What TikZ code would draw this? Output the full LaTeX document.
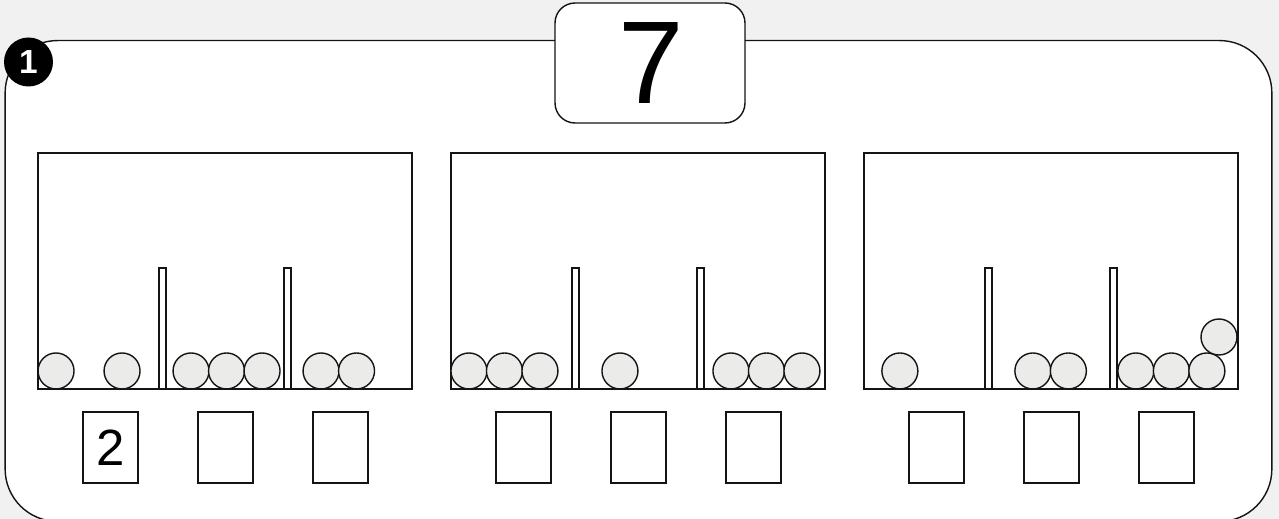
\documentclass[tikz,border=0pt]{standalone}
\usepackage{fontspec}
\setmainfont{Liberation Sans}
\usetikzlibrary{positioning}
\definecolor{ink}{RGB}{20,20,20}
\definecolor{paper}{RGB}{240,241,240}
\definecolor{marble}{RGB}{235,236,234}
\tikzset{
  every picture/.style={color=ink, line width=0.8pt},
  frame/.style={draw=ink, fill=white, rounded corners=1.05cm, minimum width=25.34cm, minimum height=9.62cm, inner sep=0pt},
  total/.style={draw=ink, fill=white, rounded corners=0.4cm, minimum width=3.8cm, minimum height=2.4cm, inner sep=0pt, text=black, font=\fontsize{67}{70}\selectfont},
  badge/.style={circle, fill=black, text=white, minimum size=0.98cm, inner sep=0pt, font=\fontsize{19}{22}\selectfont\bfseries},
  tray/.style={draw=ink, fill=white, minimum width=7.48cm, minimum height=4.72cm, inner sep=0pt, outer sep=0pt},
  wall/.style={draw=ink, fill=white, minimum width=0.14cm, minimum height=2.42cm, inner sep=0pt},
  ball/.style={circle, draw=ink, fill=marble, minimum size=0.72cm, inner sep=0pt},
  slot/.style={draw=ink, fill=white, minimum width=1.1cm, minimum height=1.42cm, inner sep=0pt},
  digit/.style={inner sep=0pt, text=black, font=\fontsize{29}{32}\selectfont},
}

\begin{document}
\begin{tikzpicture}[x=0.02cm, y=-0.02cm, node distance=0.78cm]
  \useasboundingbox (0,0) rectangle (1279,519);
  \fill[paper] (0,0) rectangle (1279,519);
  \clip (0,0) rectangle (1279,519);
  \node[frame] (frame) at (638.5,281) {};
  \node[total] (total) at (650,63) {\hspace{0.05cm}7};
  \node[badge] (badge) at (28.5,62) {1};
  % the three trays
  \node[tray] (tray1) at (225,271) {};
  \node[tray, right=of tray1] (tray2) {};
  \node[tray, right=of tray2] (tray3) {};
  \foreach \t/\balls in {1/{18,84,153,188.5,224,283,318.5},
                         2/{18,53.5,89,169,280,315.5,351},
                         3/{36,169,204.5,272,307.5,343}} {
    \begin{scope}[shift={(tray\t.south west)}]
      \node[wall] (tray\t-w1) at (124.5,-60.5) {};
      \node[wall] (tray\t-w2) at (249.5,-60.5) {};
      \foreach \b [count=\i] in \balls
        \node[ball] (tray\t-b\i) at (\b,-18) {};
      \foreach \s [count=\i] in {72.5,187.5,302.5}
        \node[slot] (tray\t-s\i) at (\s,58.5) {};
    \end{scope}
  }
  \node[ball] (tray3-b7) at (1219,337) {};
  \node[digit] (given) at (tray1-s1) {2};
\end{tikzpicture}
\end{document}
